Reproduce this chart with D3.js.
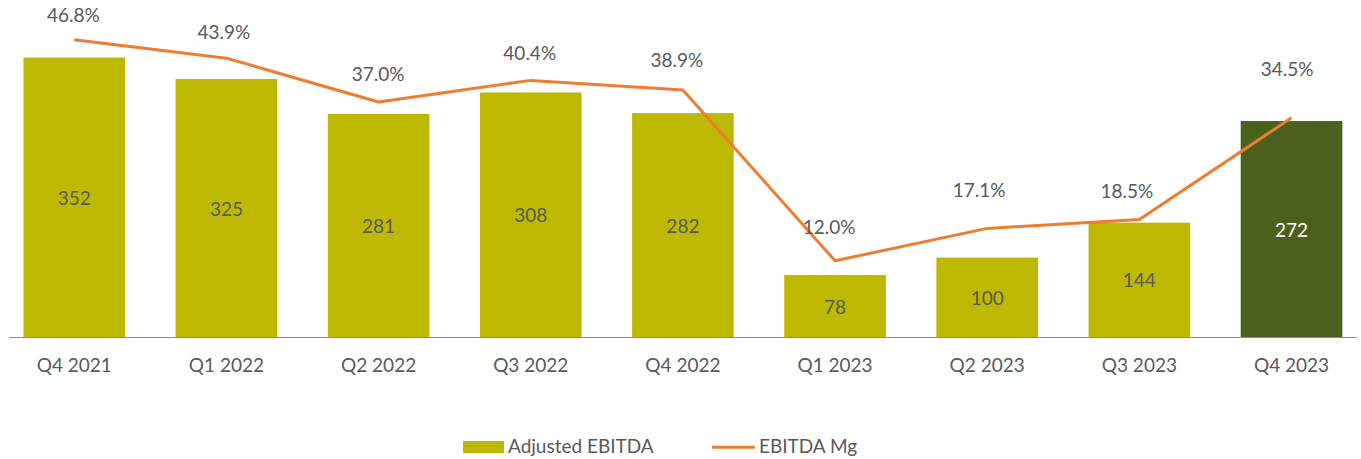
<!DOCTYPE html>
<html>
<head>
<meta charset="utf-8">
<script src="https://cdn.jsdelivr.net/npm/d3@7"></script>
<style>
  html, body { margin: 0; padding: 0; background: #fff; }
  svg { display: block; font-family: Lato, "Open Sans", sans-serif; }
</style>
</head>
<body>
<svg id="chart" width="1361" height="459"></svg>
<script>
// ---- data ----
const categories = ["Q4 2021","Q1 2022","Q2 2022","Q3 2022","Q4 2022","Q1 2023","Q2 2023","Q3 2023","Q4 2023"];
const adjustedEbitda = [352, 325, 281, 308, 282, 78, 100, 144, 272];
const ebitdaMargin = [46.8, 43.9, 37.0, 40.4, 38.9, 12.0, 17.1, 18.5, 34.5];
const marginLabels = ["46.8%","43.9%","37.0%","40.4%","38.9%","12.0%","17.1%","18.5%","34.5%"];
const seriesNames = ["Adjusted EBITDA", "EBITDA Mg"];

// ---- layout (label nudges, as placed in the original) ----
const pctLabelDx = [-1, -2.5, -0.5, -1, -6, -6, -8, -12.5, -4.5];
const pctLabelDy = [-24.5, -26, -28, -27, -30, -33.5, -38.5, -28.5, -49];

const colors = { bar: "#BDB800", barLast: "#4B601C", line: "#ED7D31", text: "#595959", axis: "#8C8C8C" };

const svg = d3.select("#chart");
const x = d3.scaleBand().domain(categories).range([-1.8, 1367.6]).paddingInner(0.332).paddingOuter(0.166);
const y = d3.scaleLinear().domain([0, 400]).range([337, 19.4]);
const y2 = d3.scaleLinear().domain([0, 50]).range([337, 19.4]);

// bars
svg.append("g").selectAll("rect").data(adjustedEbitda).join("rect")
  .attr("x", (d, i) => x(categories[i]))
  .attr("y", d => y(d))
  .attr("width", x.bandwidth())
  .attr("height", d => y(0) - y(d))
  .attr("fill", (d, i) => i === adjustedEbitda.length - 1 ? colors.barLast : colors.bar);

// axis line
svg.append("line").attr("x1", 9).attr("x2", 1357).attr("y1", y(0) + 0.5).attr("y2", y(0) + 0.5)
  .attr("stroke", colors.axis).attr("stroke-width", 1.2);

// category axis labels
const xAxis = d3.axisBottom(x).tickSize(0).tickPadding(0);
const gx = svg.append("g").attr("transform", `translate(0,${y(0)})`).call(xAxis);
gx.select(".domain").remove();
gx.selectAll("text").attr("font-size", 19).attr("fill", colors.text)
  .attr("font-family", "Lato, sans-serif").attr("dy", null).attr("y", 35);

// bar value labels
svg.append("g").selectAll("text").data(adjustedEbitda).join("text")
  .attr("x", (d, i) => x(categories[i]) + x.bandwidth() / 2)
  .attr("y", d => (y(d) + y(0)) / 2 + 1)
  .attr("dy", "0.35em")
  .attr("text-anchor", "middle")
  .attr("font-size", 19)
  .attr("fill", (d, i) => i === adjustedEbitda.length - 1 ? "#ffffff" : colors.text)
  .text(d => d);

// line
const line = d3.line()
  .x((d, i) => x(categories[i]) + x.bandwidth() / 2)
  .y(d => y2(d));
svg.append("path").datum(ebitdaMargin)
  .attr("d", line).attr("fill", "none")
  .attr("stroke", colors.line).attr("stroke-width", 3).attr("stroke-linejoin", "round");

// margin labels
svg.append("g").selectAll("text").data(ebitdaMargin).join("text")
  .attr("x", (d, i) => x(categories[i]) + x.bandwidth() / 2 + pctLabelDx[i])
  .attr("y", (d, i) => y2(d) + pctLabelDy[i])
  .attr("dy", "0.35em")
  .attr("text-anchor", "middle")
  .attr("font-size", 19)
  .attr("fill", colors.text)
  .text((d, i) => marginLabels[i]);

// legend
const lg = svg.append("g");
lg.append("rect").attr("x", 463).attr("y", 441).attr("width", 41).attr("height", 12).attr("fill", colors.bar);
lg.append("text").attr("x", 508).attr("y", 453).attr("font-size", 19).attr("fill", colors.text).text(seriesNames[0]);
lg.append("line").attr("x1", 712).attr("x2", 755).attr("y1", 447.3).attr("y2", 447.3)
  .attr("stroke", colors.line).attr("stroke-width", 3);
lg.append("text").attr("x", 759).attr("y", 453).attr("font-size", 19).attr("fill", colors.text).text(seriesNames[1]);
</script>
</body>
</html>
